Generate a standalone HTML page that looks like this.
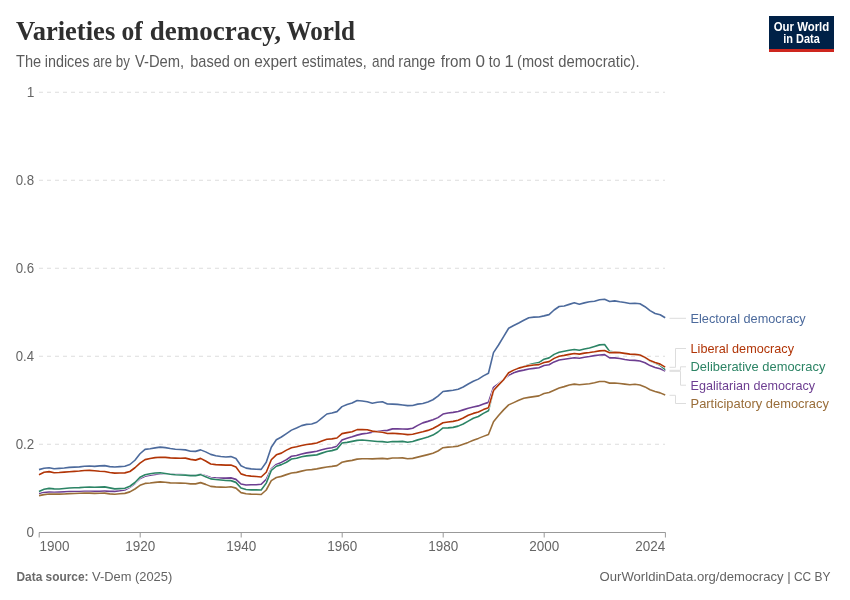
<!DOCTYPE html>
<html lang="en"><head><meta charset="utf-8"><title>Varieties of democracy, World</title>
<style>html,body{margin:0;padding:0;background:#fff;}body{width:850px;height:600px;overflow:hidden;}svg{display:block;}</style>
</head><body>
<svg width="850" height="600" viewBox="0 0 850 600">
<rect width="850" height="600" fill="#fff"/>
<text y="39.7" font-family="'Liberation Serif', serif" font-weight="700" font-size="27" fill="#2f2f2f"><tspan x="15.91" textLength="99.32" lengthAdjust="spacingAndGlyphs">Varieties</tspan> <tspan x="121.43" textLength="21.32" lengthAdjust="spacingAndGlyphs">of</tspan> <tspan x="149.72" textLength="131.30" lengthAdjust="spacingAndGlyphs">democracy,</tspan> <tspan x="286.55" textLength="68.32" lengthAdjust="spacingAndGlyphs">World</tspan></text>
<text y="66.5" font-family="'Liberation Sans', sans-serif" font-size="15.7" fill="#5b5b5b"><tspan x="15.97" textLength="25.18" lengthAdjust="spacingAndGlyphs">The</tspan> <tspan x="44.74" textLength="44.68" lengthAdjust="spacingAndGlyphs">indices</tspan> <tspan x="93.04" textLength="18.94" lengthAdjust="spacingAndGlyphs">are</tspan> <tspan x="115.74" textLength="14.09" lengthAdjust="spacingAndGlyphs">by</tspan> <tspan x="134.94" textLength="49.27" lengthAdjust="spacingAndGlyphs">V-Dem,</tspan> <tspan x="190.26" textLength="39.68" lengthAdjust="spacingAndGlyphs">based</tspan> <tspan x="233.57" textLength="16.60" lengthAdjust="spacingAndGlyphs">on</tspan> <tspan x="254.25" textLength="42.77" lengthAdjust="spacingAndGlyphs">expert</tspan> <tspan x="301.69" textLength="64.99" lengthAdjust="spacingAndGlyphs">estimates,</tspan> <tspan x="372.12" textLength="22.65" lengthAdjust="spacingAndGlyphs">and</tspan> <tspan x="398.34" textLength="37.11" lengthAdjust="spacingAndGlyphs">range</tspan> <tspan x="440.68" textLength="30.42" lengthAdjust="spacingAndGlyphs">from</tspan> <tspan x="475.43" textLength="9.54" lengthAdjust="spacingAndGlyphs">0</tspan> <tspan x="488.79" textLength="11.70" lengthAdjust="spacingAndGlyphs">to</tspan> <tspan x="504.53" textLength="9.29" lengthAdjust="spacingAndGlyphs">1</tspan> <tspan x="517.10" textLength="36.41" lengthAdjust="spacingAndGlyphs">(most</tspan> <tspan x="558.28" textLength="81.37" lengthAdjust="spacingAndGlyphs">democratic).</tspan></text>
<g><rect x="769" y="16" width="65" height="36" fill="#002147"/><rect x="769" y="49" width="65" height="3" fill="#ce261e"/>
<text x="801.5" y="31" text-anchor="middle" font-family="'Liberation Sans', sans-serif" font-weight="700" font-size="13" fill="#fff" textLength="55.5" lengthAdjust="spacingAndGlyphs">Our World</text>
<text x="801.5" y="43" text-anchor="middle" font-family="'Liberation Sans', sans-serif" font-weight="700" font-size="13" fill="#fff" textLength="36.5" lengthAdjust="spacingAndGlyphs">in Data</text></g>
<line x1="39" x2="665" y1="92.25" y2="92.25" stroke="#ddd" stroke-width="1" stroke-dasharray="4,4"/>
<line x1="39" x2="665" y1="180.25" y2="180.25" stroke="#ddd" stroke-width="1" stroke-dasharray="4,4"/>
<line x1="39" x2="665" y1="268.25" y2="268.25" stroke="#ddd" stroke-width="1" stroke-dasharray="4,4"/>
<line x1="39" x2="665" y1="356.25" y2="356.25" stroke="#ddd" stroke-width="1" stroke-dasharray="4,4"/>
<line x1="39" x2="665" y1="444.25" y2="444.25" stroke="#ddd" stroke-width="1" stroke-dasharray="4,4"/>
<text x="26.66" y="96.75" font-family="'Liberation Sans', sans-serif" font-size="14.1" fill="#666" textLength="7.61" lengthAdjust="spacingAndGlyphs">1</text>
<text x="15.68" y="184.75" font-family="'Liberation Sans', sans-serif" font-size="14.1" fill="#666" textLength="18.50" lengthAdjust="spacingAndGlyphs">0.8</text>
<text x="15.68" y="272.75" font-family="'Liberation Sans', sans-serif" font-size="14.1" fill="#666" textLength="18.50" lengthAdjust="spacingAndGlyphs">0.6</text>
<text x="15.69" y="360.75" font-family="'Liberation Sans', sans-serif" font-size="14.1" fill="#666" textLength="18.30" lengthAdjust="spacingAndGlyphs">0.4</text>
<text x="15.68" y="448.75" font-family="'Liberation Sans', sans-serif" font-size="14.1" fill="#666" textLength="18.60" lengthAdjust="spacingAndGlyphs">0.2</text>
<text x="26.57" y="536.75" font-family="'Liberation Sans', sans-serif" font-size="14.1" fill="#666" textLength="7.56" lengthAdjust="spacingAndGlyphs">0</text>
<line x1="39" x2="665.5" y1="532.5" y2="532.5" stroke="#999" stroke-width="1"/>
<line x1="39.2" x2="39.2" y1="532.5" y2="537.5" stroke="#999" stroke-width="1"/>
<text x="39.5" y="550.6" font-family="'Liberation Sans', sans-serif" font-size="14.2" fill="#666" textLength="30" lengthAdjust="spacingAndGlyphs">1900</text>
<line x1="140.2" x2="140.2" y1="532.5" y2="537.5" stroke="#999" stroke-width="1"/>
<text x="140.2" y="550.6" text-anchor="middle" font-family="'Liberation Sans', sans-serif" font-size="14.2" fill="#666" textLength="30" lengthAdjust="spacingAndGlyphs">1920</text>
<line x1="241.2" x2="241.2" y1="532.5" y2="537.5" stroke="#999" stroke-width="1"/>
<text x="241.2" y="550.6" text-anchor="middle" font-family="'Liberation Sans', sans-serif" font-size="14.2" fill="#666" textLength="30" lengthAdjust="spacingAndGlyphs">1940</text>
<line x1="342.2" x2="342.2" y1="532.5" y2="537.5" stroke="#999" stroke-width="1"/>
<text x="342.2" y="550.6" text-anchor="middle" font-family="'Liberation Sans', sans-serif" font-size="14.2" fill="#666" textLength="30" lengthAdjust="spacingAndGlyphs">1960</text>
<line x1="443.2" x2="443.2" y1="532.5" y2="537.5" stroke="#999" stroke-width="1"/>
<text x="443.2" y="550.6" text-anchor="middle" font-family="'Liberation Sans', sans-serif" font-size="14.2" fill="#666" textLength="30" lengthAdjust="spacingAndGlyphs">1980</text>
<line x1="544.2" x2="544.2" y1="532.5" y2="537.5" stroke="#999" stroke-width="1"/>
<text x="544.2" y="550.6" text-anchor="middle" font-family="'Liberation Sans', sans-serif" font-size="14.2" fill="#666" textLength="30" lengthAdjust="spacingAndGlyphs">2000</text>
<line x1="665.4" x2="665.4" y1="532.5" y2="537.5" stroke="#999" stroke-width="1"/>
<text x="665.3" y="550.6" text-anchor="end" font-family="'Liberation Sans', sans-serif" font-size="14.2" fill="#666" textLength="30" lengthAdjust="spacingAndGlyphs">2024</text>
<path d="M39.00,493.50 L44.05,492.50 L49.10,492.00 L54.15,492.25 L59.20,492.12 L64.25,491.88 L69.30,491.62 L74.35,491.50 L79.40,491.50 L84.45,491.38 L89.50,491.38 L94.55,491.38 L99.60,491.25 L104.65,491.12 L109.70,491.38 L114.75,491.38 L119.80,490.75 L124.85,490.00 L129.90,487.25 L134.95,483.50 L140.00,478.62 L145.05,476.25 L150.10,475.25 L155.15,474.38 L160.20,473.75 L165.25,473.75 L170.30,474.12 L175.35,474.50 L180.40,474.62 L185.45,474.88 L190.50,475.38 L195.55,475.38 L200.60,474.38 L205.65,475.75 L210.70,477.50 L215.75,477.88 L220.80,478.12 L225.85,478.12 L230.90,477.88 L235.95,479.38 L241.00,484.00 L246.05,485.00 L251.10,484.75 L256.15,484.75 L261.20,484.25 L266.25,479.38 L271.30,468.75 L276.35,464.38 L281.40,462.50 L286.45,459.75 L291.50,456.25 L296.55,455.50 L301.60,454.00 L306.65,452.88 L311.70,452.12 L316.75,451.25 L321.80,449.75 L326.85,448.50 L331.90,447.75 L336.95,446.25 L342.00,439.96 L347.05,438.25 L352.10,436.75 L357.15,435.12 L362.20,433.88 L367.25,433.25 L372.30,432.25 L377.35,431.38 L382.40,430.88 L387.45,430.38 L392.50,428.88 L397.55,428.75 L402.60,429.00 L407.65,429.12 L412.70,428.25 L417.75,425.38 L422.80,422.88 L427.85,421.38 L432.90,419.75 L437.95,417.62 L443.00,414.06 L448.05,413.00 L453.10,412.38 L458.15,411.50 L463.20,409.88 L468.25,408.25 L473.30,407.00 L478.35,405.88 L483.40,404.00 L488.45,402.38 L493.50,387.38 L498.55,383.62 L503.60,379.25 L508.65,375.25 L513.70,372.75 L518.75,371.12 L523.80,370.12 L528.85,369.00 L533.90,368.38 L538.95,367.75 L544.00,365.44 L549.05,364.75 L554.10,361.88 L559.15,360.00 L564.20,359.25 L569.25,358.50 L574.30,357.75 L579.35,358.25 L584.40,357.25 L589.45,356.50 L594.50,355.62 L599.55,355.00 L604.60,354.62 L609.65,357.88 L614.70,357.88 L619.75,358.50 L624.80,359.50 L629.85,360.25 L634.90,360.38 L639.95,361.00 L645.00,362.75 L650.05,365.62 L655.10,367.50 L660.15,368.75 L665.20,371.00" fill="none" stroke="#fff" stroke-width="2.6" stroke-linejoin="round" stroke-linecap="butt"/>
<path d="M39.00,493.50 L44.05,492.50 L49.10,492.00 L54.15,492.25 L59.20,492.12 L64.25,491.88 L69.30,491.62 L74.35,491.50 L79.40,491.50 L84.45,491.38 L89.50,491.38 L94.55,491.38 L99.60,491.25 L104.65,491.12 L109.70,491.38 L114.75,491.38 L119.80,490.75 L124.85,490.00 L129.90,487.25 L134.95,483.50 L140.00,478.62 L145.05,476.25 L150.10,475.25 L155.15,474.38 L160.20,473.75 L165.25,473.75 L170.30,474.12 L175.35,474.50 L180.40,474.62 L185.45,474.88 L190.50,475.38 L195.55,475.38 L200.60,474.38 L205.65,475.75 L210.70,477.50 L215.75,477.88 L220.80,478.12 L225.85,478.12 L230.90,477.88 L235.95,479.38 L241.00,484.00 L246.05,485.00 L251.10,484.75 L256.15,484.75 L261.20,484.25 L266.25,479.38 L271.30,468.75 L276.35,464.38 L281.40,462.50 L286.45,459.75 L291.50,456.25 L296.55,455.50 L301.60,454.00 L306.65,452.88 L311.70,452.12 L316.75,451.25 L321.80,449.75 L326.85,448.50 L331.90,447.75 L336.95,446.25 L342.00,439.96 L347.05,438.25 L352.10,436.75 L357.15,435.12 L362.20,433.88 L367.25,433.25 L372.30,432.25 L377.35,431.38 L382.40,430.88 L387.45,430.38 L392.50,428.88 L397.55,428.75 L402.60,429.00 L407.65,429.12 L412.70,428.25 L417.75,425.38 L422.80,422.88 L427.85,421.38 L432.90,419.75 L437.95,417.62 L443.00,414.06 L448.05,413.00 L453.10,412.38 L458.15,411.50 L463.20,409.88 L468.25,408.25 L473.30,407.00 L478.35,405.88 L483.40,404.00 L488.45,402.38 L493.50,387.38 L498.55,383.62 L503.60,379.25 L508.65,375.25 L513.70,372.75 L518.75,371.12 L523.80,370.12 L528.85,369.00 L533.90,368.38 L538.95,367.75 L544.00,365.44 L549.05,364.75 L554.10,361.88 L559.15,360.00 L564.20,359.25 L569.25,358.50 L574.30,357.75 L579.35,358.25 L584.40,357.25 L589.45,356.50 L594.50,355.62 L599.55,355.00 L604.60,354.62 L609.65,357.88 L614.70,357.88 L619.75,358.50 L624.80,359.50 L629.85,360.25 L634.90,360.38 L639.95,361.00 L645.00,362.75 L650.05,365.62 L655.10,367.50 L660.15,368.75 L665.20,371.00" fill="none" stroke="#6D3E91" stroke-width="1.6" stroke-linejoin="round" stroke-linecap="butt"/>
<path d="M39.00,495.62 L44.05,494.62 L49.10,494.00 L54.15,494.12 L59.20,494.12 L64.25,494.00 L69.30,493.62 L74.35,493.50 L79.40,493.25 L84.45,493.12 L89.50,493.12 L94.55,493.38 L99.60,493.25 L104.65,493.12 L109.70,493.88 L114.75,494.25 L119.80,493.75 L124.85,493.38 L129.90,491.88 L134.95,489.00 L140.00,485.31 L145.05,483.38 L150.10,483.00 L155.15,482.38 L160.20,481.88 L165.25,482.25 L170.30,482.88 L175.35,483.00 L180.40,483.12 L185.45,483.25 L190.50,483.88 L195.55,483.88 L200.60,482.62 L205.65,484.38 L210.70,486.38 L215.75,486.88 L220.80,487.12 L225.85,487.25 L230.90,486.75 L235.95,488.12 L241.00,492.62 L246.05,493.75 L251.10,494.12 L256.15,494.25 L261.20,494.50 L266.25,490.00 L271.30,480.62 L276.35,477.50 L281.40,476.38 L286.45,474.62 L291.50,473.00 L296.55,472.38 L301.60,471.12 L306.65,470.00 L311.70,469.62 L316.75,468.88 L321.80,467.88 L326.85,467.00 L331.90,466.38 L336.95,465.62 L342.00,462.25 L347.05,461.12 L352.10,460.38 L357.15,459.12 L362.20,458.75 L367.25,458.75 L372.30,458.88 L377.35,458.62 L382.40,458.38 L387.45,458.88 L392.50,458.00 L397.55,458.00 L402.60,457.88 L407.65,458.75 L412.70,458.38 L417.75,457.12 L422.80,455.88 L427.85,454.62 L432.90,453.25 L437.95,451.00 L443.00,447.69 L448.05,447.12 L453.10,446.75 L458.15,446.12 L463.20,444.25 L468.25,442.38 L473.30,440.25 L478.35,438.38 L483.40,436.38 L488.45,434.50 L493.50,421.75 L498.55,415.50 L503.60,409.88 L508.65,404.88 L513.70,402.62 L518.75,400.25 L523.80,398.25 L528.85,397.38 L533.90,396.62 L538.95,395.88 L544.00,393.56 L549.05,392.50 L554.10,390.25 L559.15,388.00 L564.20,386.62 L569.25,385.00 L574.30,384.12 L579.35,384.75 L584.40,384.25 L589.45,383.75 L594.50,382.75 L599.55,381.50 L604.60,381.50 L609.65,383.12 L614.70,383.00 L619.75,383.50 L624.80,384.12 L629.85,384.75 L634.90,384.25 L639.95,385.00 L645.00,386.88 L650.05,389.75 L655.10,391.50 L660.15,392.88 L665.20,395.00" fill="none" stroke="#fff" stroke-width="2.6" stroke-linejoin="round" stroke-linecap="butt"/>
<path d="M39.00,495.62 L44.05,494.62 L49.10,494.00 L54.15,494.12 L59.20,494.12 L64.25,494.00 L69.30,493.62 L74.35,493.50 L79.40,493.25 L84.45,493.12 L89.50,493.12 L94.55,493.38 L99.60,493.25 L104.65,493.12 L109.70,493.88 L114.75,494.25 L119.80,493.75 L124.85,493.38 L129.90,491.88 L134.95,489.00 L140.00,485.31 L145.05,483.38 L150.10,483.00 L155.15,482.38 L160.20,481.88 L165.25,482.25 L170.30,482.88 L175.35,483.00 L180.40,483.12 L185.45,483.25 L190.50,483.88 L195.55,483.88 L200.60,482.62 L205.65,484.38 L210.70,486.38 L215.75,486.88 L220.80,487.12 L225.85,487.25 L230.90,486.75 L235.95,488.12 L241.00,492.62 L246.05,493.75 L251.10,494.12 L256.15,494.25 L261.20,494.50 L266.25,490.00 L271.30,480.62 L276.35,477.50 L281.40,476.38 L286.45,474.62 L291.50,473.00 L296.55,472.38 L301.60,471.12 L306.65,470.00 L311.70,469.62 L316.75,468.88 L321.80,467.88 L326.85,467.00 L331.90,466.38 L336.95,465.62 L342.00,462.25 L347.05,461.12 L352.10,460.38 L357.15,459.12 L362.20,458.75 L367.25,458.75 L372.30,458.88 L377.35,458.62 L382.40,458.38 L387.45,458.88 L392.50,458.00 L397.55,458.00 L402.60,457.88 L407.65,458.75 L412.70,458.38 L417.75,457.12 L422.80,455.88 L427.85,454.62 L432.90,453.25 L437.95,451.00 L443.00,447.69 L448.05,447.12 L453.10,446.75 L458.15,446.12 L463.20,444.25 L468.25,442.38 L473.30,440.25 L478.35,438.38 L483.40,436.38 L488.45,434.50 L493.50,421.75 L498.55,415.50 L503.60,409.88 L508.65,404.88 L513.70,402.62 L518.75,400.25 L523.80,398.25 L528.85,397.38 L533.90,396.62 L538.95,395.88 L544.00,393.56 L549.05,392.50 L554.10,390.25 L559.15,388.00 L564.20,386.62 L569.25,385.00 L574.30,384.12 L579.35,384.75 L584.40,384.25 L589.45,383.75 L594.50,382.75 L599.55,381.50 L604.60,381.50 L609.65,383.12 L614.70,383.00 L619.75,383.50 L624.80,384.12 L629.85,384.75 L634.90,384.25 L639.95,385.00 L645.00,386.88 L650.05,389.75 L655.10,391.50 L660.15,392.88 L665.20,395.00" fill="none" stroke="#996D39" stroke-width="1.6" stroke-linejoin="round" stroke-linecap="butt"/>
<path d="M39.00,491.50 L44.05,489.25 L49.10,488.38 L54.15,488.88 L59.20,489.00 L64.25,488.50 L69.30,488.00 L74.35,487.75 L79.40,487.62 L84.45,487.25 L89.50,487.12 L94.55,487.25 L99.60,487.12 L104.65,486.88 L109.70,487.88 L114.75,488.88 L119.80,488.62 L124.85,488.25 L129.90,486.25 L134.95,482.50 L140.00,477.19 L145.05,474.75 L150.10,473.75 L155.15,473.00 L160.20,472.75 L165.25,473.50 L170.30,474.25 L175.35,474.75 L180.40,475.00 L185.45,475.12 L190.50,475.62 L195.55,475.62 L200.60,474.62 L205.65,476.75 L210.70,478.88 L215.75,479.50 L220.80,480.00 L225.85,480.50 L230.90,480.62 L235.95,482.38 L241.00,488.00 L246.05,489.50 L251.10,489.88 L256.15,489.88 L261.20,490.00 L266.25,483.12 L271.30,470.38 L276.35,466.25 L281.40,464.62 L286.45,462.25 L291.50,459.00 L296.55,458.25 L301.60,456.75 L306.65,455.88 L311.70,455.38 L316.75,454.88 L321.80,453.12 L326.85,451.50 L331.90,450.62 L336.95,449.12 L342.00,443.04 L347.05,442.38 L352.10,441.38 L357.15,440.38 L362.20,440.00 L367.25,440.50 L372.30,441.00 L377.35,441.50 L382.40,441.62 L387.45,442.25 L392.50,441.50 L397.55,441.62 L402.60,441.38 L407.65,442.25 L412.70,441.50 L417.75,439.88 L422.80,438.50 L427.85,437.00 L432.90,435.12 L437.95,432.00 L443.00,427.94 L448.05,427.88 L453.10,427.38 L458.15,426.12 L463.20,424.00 L468.25,421.12 L473.30,418.25 L478.35,416.50 L483.40,413.38 L488.45,410.75 L493.50,390.88 L498.55,385.12 L503.60,379.62 L508.65,372.75 L513.70,370.12 L518.75,368.00 L523.80,366.50 L528.85,364.88 L533.90,363.50 L538.95,362.62 L544.00,359.19 L549.05,357.88 L554.10,354.38 L559.15,352.25 L564.20,351.25 L569.25,350.25 L574.30,349.50 L579.35,350.25 L584.40,349.00 L589.45,348.00 L594.50,346.50 L599.55,344.88 L604.60,344.50 L609.65,351.38 L614.70,352.00 L619.75,352.50 L624.80,353.38 L629.85,354.12 L634.90,354.38 L639.95,354.81 L645.00,357.56 L650.05,361.00 L655.10,363.12 L660.15,365.38 L665.20,369.75" fill="none" stroke="#fff" stroke-width="2.6" stroke-linejoin="round" stroke-linecap="butt"/>
<path d="M39.00,491.50 L44.05,489.25 L49.10,488.38 L54.15,488.88 L59.20,489.00 L64.25,488.50 L69.30,488.00 L74.35,487.75 L79.40,487.62 L84.45,487.25 L89.50,487.12 L94.55,487.25 L99.60,487.12 L104.65,486.88 L109.70,487.88 L114.75,488.88 L119.80,488.62 L124.85,488.25 L129.90,486.25 L134.95,482.50 L140.00,477.19 L145.05,474.75 L150.10,473.75 L155.15,473.00 L160.20,472.75 L165.25,473.50 L170.30,474.25 L175.35,474.75 L180.40,475.00 L185.45,475.12 L190.50,475.62 L195.55,475.62 L200.60,474.62 L205.65,476.75 L210.70,478.88 L215.75,479.50 L220.80,480.00 L225.85,480.50 L230.90,480.62 L235.95,482.38 L241.00,488.00 L246.05,489.50 L251.10,489.88 L256.15,489.88 L261.20,490.00 L266.25,483.12 L271.30,470.38 L276.35,466.25 L281.40,464.62 L286.45,462.25 L291.50,459.00 L296.55,458.25 L301.60,456.75 L306.65,455.88 L311.70,455.38 L316.75,454.88 L321.80,453.12 L326.85,451.50 L331.90,450.62 L336.95,449.12 L342.00,443.04 L347.05,442.38 L352.10,441.38 L357.15,440.38 L362.20,440.00 L367.25,440.50 L372.30,441.00 L377.35,441.50 L382.40,441.62 L387.45,442.25 L392.50,441.50 L397.55,441.62 L402.60,441.38 L407.65,442.25 L412.70,441.50 L417.75,439.88 L422.80,438.50 L427.85,437.00 L432.90,435.12 L437.95,432.00 L443.00,427.94 L448.05,427.88 L453.10,427.38 L458.15,426.12 L463.20,424.00 L468.25,421.12 L473.30,418.25 L478.35,416.50 L483.40,413.38 L488.45,410.75 L493.50,390.88 L498.55,385.12 L503.60,379.62 L508.65,372.75 L513.70,370.12 L518.75,368.00 L523.80,366.50 L528.85,364.88 L533.90,363.50 L538.95,362.62 L544.00,359.19 L549.05,357.88 L554.10,354.38 L559.15,352.25 L564.20,351.25 L569.25,350.25 L574.30,349.50 L579.35,350.25 L584.40,349.00 L589.45,348.00 L594.50,346.50 L599.55,344.88 L604.60,344.50 L609.65,351.38 L614.70,352.00 L619.75,352.50 L624.80,353.38 L629.85,354.12 L634.90,354.38 L639.95,354.81 L645.00,357.56 L650.05,361.00 L655.10,363.12 L660.15,365.38 L665.20,369.75" fill="none" stroke="#2C8465" stroke-width="1.6" stroke-linejoin="round" stroke-linecap="butt"/>
<path d="M39.00,474.75 L44.05,472.25 L49.10,471.62 L54.15,472.75 L59.20,472.50 L64.25,472.12 L69.30,471.75 L74.35,471.38 L79.40,471.00 L84.45,470.50 L89.50,470.38 L94.55,470.75 L99.60,471.25 L104.65,471.50 L109.70,472.50 L114.75,473.12 L119.80,473.00 L124.85,472.88 L129.90,471.50 L134.95,467.75 L140.00,463.12 L145.05,459.62 L150.10,458.50 L155.15,457.62 L160.20,457.25 L165.25,457.38 L170.30,457.88 L175.35,458.12 L180.40,458.25 L185.45,458.12 L190.50,459.38 L195.55,460.12 L200.60,458.38 L205.65,461.00 L210.70,464.00 L215.75,464.62 L220.80,464.88 L225.85,465.12 L230.90,465.00 L235.95,467.00 L241.00,473.88 L246.05,475.50 L251.10,476.12 L256.15,476.50 L261.20,477.00 L266.25,472.25 L271.30,459.75 L276.35,454.81 L281.40,453.12 L286.45,450.12 L291.50,447.69 L296.55,446.69 L301.60,445.44 L306.65,444.50 L311.70,443.88 L316.75,443.00 L321.80,441.12 L326.85,439.25 L331.90,438.88 L336.95,438.00 L342.00,433.62 L347.05,432.62 L352.10,431.75 L357.15,429.62 L362.20,429.50 L367.25,429.75 L372.30,431.12 L377.35,431.75 L382.40,432.25 L387.45,433.50 L392.50,433.25 L397.55,433.62 L402.60,434.00 L407.65,434.62 L412.70,434.25 L417.75,433.00 L422.80,431.75 L427.85,430.38 L432.90,428.50 L437.95,425.75 L443.00,422.81 L448.05,422.00 L453.10,421.38 L458.15,420.25 L463.20,418.00 L468.25,415.25 L473.30,413.38 L478.35,412.00 L483.40,409.62 L488.45,407.75 L493.50,390.50 L498.55,384.88 L503.60,379.75 L508.65,372.75 L513.70,370.12 L518.75,368.12 L523.80,366.75 L528.85,365.62 L533.90,365.00 L538.95,364.62 L544.00,362.56 L549.05,361.62 L554.10,358.38 L559.15,356.25 L564.20,355.38 L569.25,354.38 L574.30,353.50 L579.35,354.12 L584.40,353.12 L589.45,352.50 L594.50,351.75 L599.55,350.88 L604.60,350.50 L609.65,352.75 L614.70,352.38 L619.75,352.62 L624.80,353.38 L629.85,354.12 L634.90,354.38 L639.95,354.94 L645.00,357.38 L650.05,360.62 L655.10,362.50 L660.15,364.12 L665.20,367.12" fill="none" stroke="#fff" stroke-width="2.6" stroke-linejoin="round" stroke-linecap="butt"/>
<path d="M39.00,474.75 L44.05,472.25 L49.10,471.62 L54.15,472.75 L59.20,472.50 L64.25,472.12 L69.30,471.75 L74.35,471.38 L79.40,471.00 L84.45,470.50 L89.50,470.38 L94.55,470.75 L99.60,471.25 L104.65,471.50 L109.70,472.50 L114.75,473.12 L119.80,473.00 L124.85,472.88 L129.90,471.50 L134.95,467.75 L140.00,463.12 L145.05,459.62 L150.10,458.50 L155.15,457.62 L160.20,457.25 L165.25,457.38 L170.30,457.88 L175.35,458.12 L180.40,458.25 L185.45,458.12 L190.50,459.38 L195.55,460.12 L200.60,458.38 L205.65,461.00 L210.70,464.00 L215.75,464.62 L220.80,464.88 L225.85,465.12 L230.90,465.00 L235.95,467.00 L241.00,473.88 L246.05,475.50 L251.10,476.12 L256.15,476.50 L261.20,477.00 L266.25,472.25 L271.30,459.75 L276.35,454.81 L281.40,453.12 L286.45,450.12 L291.50,447.69 L296.55,446.69 L301.60,445.44 L306.65,444.50 L311.70,443.88 L316.75,443.00 L321.80,441.12 L326.85,439.25 L331.90,438.88 L336.95,438.00 L342.00,433.62 L347.05,432.62 L352.10,431.75 L357.15,429.62 L362.20,429.50 L367.25,429.75 L372.30,431.12 L377.35,431.75 L382.40,432.25 L387.45,433.50 L392.50,433.25 L397.55,433.62 L402.60,434.00 L407.65,434.62 L412.70,434.25 L417.75,433.00 L422.80,431.75 L427.85,430.38 L432.90,428.50 L437.95,425.75 L443.00,422.81 L448.05,422.00 L453.10,421.38 L458.15,420.25 L463.20,418.00 L468.25,415.25 L473.30,413.38 L478.35,412.00 L483.40,409.62 L488.45,407.75 L493.50,390.50 L498.55,384.88 L503.60,379.75 L508.65,372.75 L513.70,370.12 L518.75,368.12 L523.80,366.75 L528.85,365.62 L533.90,365.00 L538.95,364.62 L544.00,362.56 L549.05,361.62 L554.10,358.38 L559.15,356.25 L564.20,355.38 L569.25,354.38 L574.30,353.50 L579.35,354.12 L584.40,353.12 L589.45,352.50 L594.50,351.75 L599.55,350.88 L604.60,350.50 L609.65,352.75 L614.70,352.38 L619.75,352.62 L624.80,353.38 L629.85,354.12 L634.90,354.38 L639.95,354.94 L645.00,357.38 L650.05,360.62 L655.10,362.50 L660.15,364.12 L665.20,367.12" fill="none" stroke="#B13507" stroke-width="1.6" stroke-linejoin="round" stroke-linecap="butt"/>
<path d="M39.00,469.62 L44.05,468.25 L49.10,467.75 L54.15,468.75 L59.20,468.38 L64.25,468.00 L69.30,467.38 L74.35,467.12 L79.40,466.88 L84.45,466.25 L89.50,466.00 L94.55,466.38 L99.60,465.88 L104.65,465.62 L109.70,466.62 L114.75,467.00 L119.80,466.62 L124.85,466.25 L129.90,464.50 L134.95,460.25 L140.00,453.75 L145.05,449.38 L150.10,448.75 L155.15,447.88 L160.20,447.12 L165.25,447.62 L170.30,448.50 L175.35,449.25 L180.40,449.50 L185.45,449.88 L190.50,451.25 L195.55,451.38 L200.60,449.88 L205.65,451.88 L210.70,454.38 L215.75,455.75 L220.80,456.50 L225.85,457.00 L230.90,456.62 L235.95,458.50 L241.00,465.81 L246.05,468.12 L251.10,468.88 L256.15,469.25 L261.20,469.38 L266.25,462.25 L271.30,447.31 L276.35,439.75 L281.40,437.00 L286.45,433.62 L291.50,430.12 L296.55,428.00 L301.60,425.62 L306.65,424.38 L311.70,424.00 L316.75,422.25 L321.80,418.12 L326.85,414.00 L331.90,413.00 L336.95,411.62 L342.00,406.62 L347.05,404.50 L352.10,403.00 L357.15,400.50 L362.20,401.00 L367.25,401.75 L372.30,403.25 L377.35,402.25 L382.40,401.75 L387.45,404.00 L392.50,404.12 L397.55,404.38 L402.60,405.00 L407.65,405.62 L412.70,405.50 L417.75,404.12 L422.80,403.50 L427.85,402.00 L432.90,399.75 L437.95,396.12 L443.00,391.50 L448.05,390.88 L453.10,390.25 L458.15,389.25 L463.20,387.00 L468.25,384.00 L473.30,381.31 L478.35,379.12 L483.40,375.88 L488.45,373.25 L493.50,352.62 L498.55,345.00 L503.60,336.62 L508.65,328.25 L513.70,325.50 L518.75,323.00 L523.80,320.25 L528.85,317.75 L533.90,317.12 L538.95,317.00 L544.00,315.88 L549.05,314.62 L554.10,310.00 L559.15,306.50 L564.20,306.00 L569.25,304.38 L574.30,302.75 L579.35,304.25 L584.40,302.88 L589.45,301.75 L594.50,301.25 L599.55,299.75 L604.60,299.25 L609.65,301.50 L614.70,300.88 L619.75,301.75 L624.80,302.50 L629.85,303.50 L634.90,303.25 L639.95,303.75 L645.00,306.69 L650.05,310.62 L655.10,313.50 L660.15,314.75 L665.20,317.75" fill="none" stroke="#fff" stroke-width="2.6" stroke-linejoin="round" stroke-linecap="butt"/>
<path d="M39.00,469.62 L44.05,468.25 L49.10,467.75 L54.15,468.75 L59.20,468.38 L64.25,468.00 L69.30,467.38 L74.35,467.12 L79.40,466.88 L84.45,466.25 L89.50,466.00 L94.55,466.38 L99.60,465.88 L104.65,465.62 L109.70,466.62 L114.75,467.00 L119.80,466.62 L124.85,466.25 L129.90,464.50 L134.95,460.25 L140.00,453.75 L145.05,449.38 L150.10,448.75 L155.15,447.88 L160.20,447.12 L165.25,447.62 L170.30,448.50 L175.35,449.25 L180.40,449.50 L185.45,449.88 L190.50,451.25 L195.55,451.38 L200.60,449.88 L205.65,451.88 L210.70,454.38 L215.75,455.75 L220.80,456.50 L225.85,457.00 L230.90,456.62 L235.95,458.50 L241.00,465.81 L246.05,468.12 L251.10,468.88 L256.15,469.25 L261.20,469.38 L266.25,462.25 L271.30,447.31 L276.35,439.75 L281.40,437.00 L286.45,433.62 L291.50,430.12 L296.55,428.00 L301.60,425.62 L306.65,424.38 L311.70,424.00 L316.75,422.25 L321.80,418.12 L326.85,414.00 L331.90,413.00 L336.95,411.62 L342.00,406.62 L347.05,404.50 L352.10,403.00 L357.15,400.50 L362.20,401.00 L367.25,401.75 L372.30,403.25 L377.35,402.25 L382.40,401.75 L387.45,404.00 L392.50,404.12 L397.55,404.38 L402.60,405.00 L407.65,405.62 L412.70,405.50 L417.75,404.12 L422.80,403.50 L427.85,402.00 L432.90,399.75 L437.95,396.12 L443.00,391.50 L448.05,390.88 L453.10,390.25 L458.15,389.25 L463.20,387.00 L468.25,384.00 L473.30,381.31 L478.35,379.12 L483.40,375.88 L488.45,373.25 L493.50,352.62 L498.55,345.00 L503.60,336.62 L508.65,328.25 L513.70,325.50 L518.75,323.00 L523.80,320.25 L528.85,317.75 L533.90,317.12 L538.95,317.00 L544.00,315.88 L549.05,314.62 L554.10,310.00 L559.15,306.50 L564.20,306.00 L569.25,304.38 L574.30,302.75 L579.35,304.25 L584.40,302.88 L589.45,301.75 L594.50,301.25 L599.55,299.75 L604.60,299.25 L609.65,301.50 L614.70,300.88 L619.75,301.75 L624.80,302.50 L629.85,303.50 L634.90,303.25 L639.95,303.75 L645.00,306.69 L650.05,310.62 L655.10,313.50 L660.15,314.75 L665.20,317.75" fill="none" stroke="#4C6A9C" stroke-width="1.6" stroke-linejoin="round" stroke-linecap="butt"/>
<polyline points="669.5,318.3 686,318.3" fill="none" stroke="#ddd" stroke-width="1"/>
<polyline points="669.5,367.3 675.5,367.3 675.5,348.5 686,348.5" fill="none" stroke="#ddd" stroke-width="1"/>
<polyline points="669.5,370.3 680.5,370.3 680.5,366.8 686,366.8" fill="none" stroke="#ddd" stroke-width="1"/>
<polyline points="669.5,371.3 680.5,371.3 680.5,385.2 686,385.2" fill="none" stroke="#ddd" stroke-width="1"/>
<polyline points="669.5,395.3 675.5,395.3 675.5,403.5 686,403.5" fill="none" stroke="#ddd" stroke-width="1"/>
<text x="690.56" y="322.8" font-family="'Liberation Sans', sans-serif" font-size="13.6" fill="#4C6A9C" textLength="115.17" lengthAdjust="spacingAndGlyphs">Electoral democracy</text>
<text x="690.56" y="352.9" font-family="'Liberation Sans', sans-serif" font-size="13.6" fill="#B13507" textLength="103.46" lengthAdjust="spacingAndGlyphs">Liberal democracy</text>
<text x="690.54" y="371.2" font-family="'Liberation Sans', sans-serif" font-size="13.6" fill="#2C8465" textLength="134.88" lengthAdjust="spacingAndGlyphs">Deliberative democracy</text>
<text x="690.57" y="389.5" font-family="'Liberation Sans', sans-serif" font-size="13.6" fill="#6D3E91" textLength="124.56" lengthAdjust="spacingAndGlyphs">Egalitarian democracy</text>
<text x="690.54" y="407.9" font-family="'Liberation Sans', sans-serif" font-size="13.6" fill="#996D39" textLength="138.38" lengthAdjust="spacingAndGlyphs">Participatory democracy</text>
<text x="16.5" y="580.7" font-family="'Liberation Sans', sans-serif" font-size="13.3" fill="#636363"><tspan font-weight="700" fill="#6a6a6a" textLength="72" lengthAdjust="spacingAndGlyphs">Data source:</tspan><tspan dx="3.5" textLength="80.2" lengthAdjust="spacingAndGlyphs">V-Dem (2025)</tspan></text>
<text y="580.7" font-family="'Liberation Sans', sans-serif" font-size="13.3" fill="#636363"><tspan x="599.6" textLength="184" lengthAdjust="spacingAndGlyphs">OurWorldinData.org/democracy</tspan> <tspan x="787.2">|</tspan> <tspan x="794" textLength="36.5" lengthAdjust="spacingAndGlyphs">CC BY</tspan></text>
</svg>
</body></html>
